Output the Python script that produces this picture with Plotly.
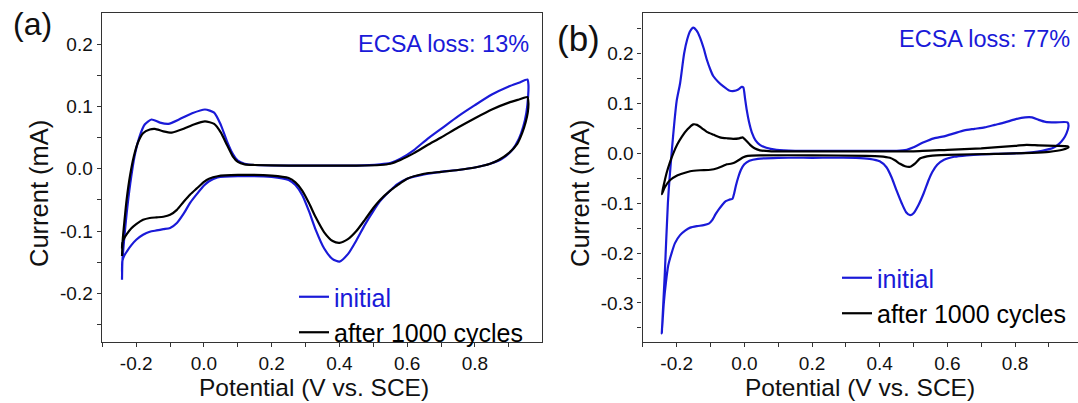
import plotly.graph_objects as go

# ---------------- data ----------------
# Panel (a): potential (V vs. SCE) and current (mA) along the CV loop
a_init_E = [-0.242, -0.241, -0.236, -0.228, -0.218, -0.205, -0.19, -0.175, -0.155, -0.13, -0.105, -0.07, -0.035,
            0.003, 0.03, 0.05, 0.068, 0.085, 0.1, 0.12, 0.15, 0.25, 0.35, 0.45, 0.52, 0.55, 0.58, 0.62, 0.66, 0.70,
            0.75, 0.80, 0.85, 0.90, 0.93, 0.955,
            0.958, 0.957, 0.952, 0.943, 0.93, 0.91, 0.88, 0.845, 0.80, 0.75, 0.70, 0.65, 0.60, 0.57, 0.55, 0.52,
            0.50, 0.475, 0.45, 0.425, 0.40, 0.38, 0.355, 0.33, 0.31, 0.29, 0.27, 0.25, 0.2, 0.1, 0.04, 0.015, 0.0,
            -0.02, -0.04, -0.06, -0.08, -0.1, -0.12, -0.14, -0.16, -0.18, -0.2, -0.215, -0.228, -0.236, -0.241, -0.242]
a_init_I = [-0.178, -0.15, -0.115, -0.07, -0.025, 0.02, 0.052, 0.071, 0.079, 0.074, 0.072, 0.08, 0.089,
            0.095, 0.09, 0.07, 0.044, 0.024, 0.013, 0.008, 0.006, 0.005, 0.005, 0.005, 0.007, 0.009, 0.016, 0.03,
            0.048, 0.064, 0.084, 0.102, 0.119, 0.132, 0.138, 0.143,
            0.135, 0.115, 0.09, 0.068, 0.048, 0.03, 0.016, 0.008, 0.002, -0.002, -0.005, -0.009, -0.016, -0.025,
            -0.035, -0.052, -0.068, -0.09, -0.115, -0.137, -0.149, -0.145, -0.128, -0.098, -0.068, -0.042, -0.026,
            -0.018, -0.013, -0.012, -0.014, -0.02, -0.027, -0.04, -0.054, -0.072, -0.087, -0.095, -0.097, -0.099,
            -0.101, -0.106, -0.114, -0.123, -0.133, -0.14, -0.148, -0.165]

a_after_E = [-0.242, -0.24, -0.235, -0.228, -0.218, -0.207, -0.195, -0.18, -0.16, -0.145, -0.12, -0.095, -0.06,
             -0.03, 0.003, 0.03, 0.05, 0.068, 0.085, 0.1, 0.12, 0.15, 0.25, 0.35, 0.45, 0.52, 0.55, 0.58, 0.62, 0.66,
             0.70, 0.75, 0.80, 0.85, 0.90, 0.93, 0.955,
             0.958, 0.956, 0.95, 0.94, 0.925, 0.9, 0.87, 0.845, 0.80, 0.75, 0.70, 0.65, 0.60, 0.57, 0.55, 0.52,
             0.50, 0.475, 0.45, 0.425, 0.40, 0.38, 0.355, 0.33, 0.31, 0.29, 0.27, 0.25, 0.2, 0.1, 0.04, 0.015, 0.0,
             -0.02, -0.04, -0.06, -0.08, -0.1, -0.12, -0.14, -0.16, -0.18, -0.2, -0.215, -0.228, -0.236, -0.241, -0.242]
a_after_I = [-0.14, -0.115, -0.085, -0.048, -0.01, 0.02, 0.042, 0.057, 0.063, 0.064, 0.06, 0.058, 0.064,
             0.071, 0.076, 0.072, 0.058, 0.038, 0.02, 0.011, 0.007, 0.006, 0.005, 0.005, 0.005, 0.006, 0.008, 0.014,
             0.025, 0.038, 0.05, 0.066, 0.081, 0.095, 0.106, 0.111, 0.115,
             0.105, 0.09, 0.075, 0.058, 0.04, 0.025, 0.014, 0.008, 0.002, -0.002, -0.005, -0.008, -0.016, -0.027,
             -0.035, -0.05, -0.063, -0.082, -0.1, -0.113, -0.119, -0.116, -0.102, -0.078, -0.055, -0.035, -0.022,
             -0.015, -0.011, -0.01, -0.012, -0.016, -0.021, -0.031, -0.041, -0.053, -0.066, -0.074, -0.077, -0.078,
             -0.079, -0.082, -0.089, -0.096, -0.105, -0.112, -0.118, -0.128]

# Panel (b)
b_init_E = [-0.244, -0.235, -0.226, -0.215, -0.2, -0.19, -0.178, -0.169, -0.16, -0.151, -0.141, -0.131, -0.12,
            -0.111, -0.1, -0.092, -0.077, -0.062, -0.045, -0.03, -0.018, -0.008, -0.003, 0.002, 0.007, 0.014, 0.022,
            0.033, 0.046, 0.065, 0.095, 0.15, 0.3, 0.45, 0.48, 0.5, 0.53, 0.56, 0.59, 0.62, 0.65, 0.68, 0.71, 0.74,
            0.77, 0.80, 0.83, 0.85, 0.87, 0.89, 0.92, 0.955,
            0.958, 0.952, 0.943, 0.93, 0.913, 0.88, 0.85, 0.80, 0.75, 0.70, 0.657, 0.62, 0.59, 0.57, 0.555, 0.545,
            0.53, 0.515, 0.50, 0.49, 0.478, 0.465, 0.45, 0.435, 0.42, 0.40, 0.37, 0.33, 0.2, 0.1, 0.04, 0.015, 0.0,
            -0.01, -0.018, -0.025, -0.03, -0.035, -0.045, -0.055, -0.065, -0.075, -0.085, -0.095, -0.105, -0.12,
            -0.14, -0.16, -0.175, -0.19, -0.205, -0.215, -0.225, -0.232, -0.238, -0.241, -0.244]
b_init_I = [-0.361, -0.24, -0.1, 0.0, 0.105, 0.14, 0.2, 0.228, 0.245, 0.252, 0.246, 0.232, 0.21,
            0.188, 0.167, 0.155, 0.143, 0.134, 0.126, 0.125, 0.128, 0.133, 0.132, 0.11, 0.087, 0.062, 0.042,
            0.026, 0.017, 0.011, 0.007, 0.005, 0.005, 0.005, 0.007, 0.012, 0.022, 0.030, 0.034, 0.040, 0.046, 0.049,
            0.052, 0.057, 0.062, 0.068, 0.072, 0.072, 0.067, 0.063, 0.062, 0.062,
            0.055, 0.04, 0.029, 0.019, 0.011, 0.005, 0.002, 0.0, -0.001, -0.002, -0.004, -0.007, -0.013, -0.023,
            -0.038, -0.053, -0.08, -0.103, -0.12, -0.124, -0.118, -0.1, -0.075, -0.048, -0.028, -0.016, -0.011,
            -0.009, -0.009, -0.009, -0.011, -0.015, -0.022, -0.033, -0.048, -0.065, -0.08, -0.091, -0.093, -0.096,
            -0.103, -0.112, -0.122, -0.134, -0.141, -0.144, -0.146, -0.149, -0.155, -0.164, -0.18, -0.2, -0.225,
            -0.26, -0.3, -0.33, -0.361]

b_after_E = [-0.244, -0.237, -0.23, -0.22, -0.21, -0.198, -0.185, -0.168, -0.151, -0.14, -0.125, -0.111, -0.09,
             -0.072, -0.05, -0.033, -0.015, -0.005, 0.003, 0.017, 0.03, 0.046, 0.08, 0.2, 0.4, 0.5, 0.6, 0.7, 0.8,
             0.834, 0.87, 0.92, 0.955,
             0.958, 0.94, 0.9, 0.85, 0.75, 0.6, 0.55, 0.52, 0.505, 0.49, 0.475, 0.46, 0.445, 0.43, 0.40, 0.36, 0.2,
             0.05, 0.01, -0.003, -0.015, -0.03, -0.04, -0.052, -0.065, -0.08, -0.1, -0.131, -0.16, -0.18, -0.2,
             -0.22, -0.235, -0.244]
b_after_I = [-0.082, -0.06, -0.04, -0.018, 0.0, 0.018, 0.033, 0.048, 0.058, 0.057, 0.05, 0.043, 0.037,
             0.032, 0.03, 0.029, 0.030, 0.032, 0.027, 0.017, 0.01, 0.006, 0.004, 0.004, 0.004, 0.004, 0.007, 0.010,
             0.015, 0.017, 0.016, 0.015, 0.014,
             0.012, 0.007, 0.003, 0.001, -0.001, -0.003, -0.005, -0.01, -0.02, -0.027, -0.026, -0.021, -0.014,
             -0.009, -0.006, -0.005, -0.004, -0.004, -0.005, -0.008, -0.013, -0.019, -0.021, -0.022, -0.026, -0.030,
             -0.033, -0.034, -0.036, -0.040, -0.045, -0.054, -0.068, -0.082]

x_tickvals = [-0.2, 0.0, 0.2, 0.4, 0.6, 0.8]
x_ticktext = ["-0.2", "0.0", "0.2", "0.4", "0.6", "0.8"]
ya_tickvals = [-0.2, -0.1, 0.0, 0.1, 0.2]
ya_ticktext = ["-0.2", "-0.1", "0.0", "0.1", "0.2"]
yb_tickvals = [-0.3, -0.2, -0.1, 0.0, 0.1, 0.2]
yb_ticktext = ["-0.3", "-0.2", "-0.1", "0.0", "0.1", "0.2"]

series_names = ["initial", "after 1000 cycles"]
ecsa_labels = ["ECSA loss: 13%", "ECSA loss: 77%"]
panel_labels = ["(a)", "(b)"]

# ---------------- style ----------------
BLUE = "#1a1ad8"
BLACK = "#000000"
AX = "#333333"
FONT = "Liberation Sans, Arial, sans-serif"
W, H = 1078, 403

fig = go.Figure()

def add_pair(xa, ya, E1, I1, E2, I2, legend):
    fig.add_trace(go.Scatter(x=E1, y=I1, mode="lines", xaxis=xa, yaxis=ya,
                             line=dict(color=BLUE, width=2.2, shape="spline", smoothing=0.6),
                             name="<span style='color:%s'>%s</span>" % (BLUE, series_names[0]),
                             legend=legend))
    fig.add_trace(go.Scatter(x=E2, y=I2, mode="lines", xaxis=xa, yaxis=ya,
                             line=dict(color=BLACK, width=2.2, shape="spline", smoothing=0.6),
                             name=series_names[1], legend=legend))

add_pair("x", "y", a_init_E, a_init_I, a_after_E, a_after_I, "legend")
add_pair("x2", "y2", b_init_E, b_init_I, b_after_E, b_after_I, "legend2")

def px_x(p):
    return p / W

def px_y(p):
    return 1 - p / H

TICKFONT = dict(family=FONT, size=19, color="#111")
common_x = dict(showline=True, linecolor=AX, linewidth=1.3, mirror=True, ticks="outside", ticklen=4,
                tickwidth=1.2, tickcolor=AX, showgrid=False, zeroline=False, tickfont=TICKFONT,
                tickmode="array", tickvals=x_tickvals, ticktext=x_ticktext,
                minor=dict(ticks="outside", ticklen=4, tickwidth=1.2, tickcolor=AX, tickmode="linear",
                           tick0=0, dtick=0.1, showgrid=False))
common_y = dict(showline=True, linecolor=AX, linewidth=1.3, ticks="outside", ticklen=4,
                tickwidth=1.2, tickcolor=AX, showgrid=False, zeroline=False, tickfont=TICKFONT,
                tickmode="array",
                minor=dict(ticks="outside", ticklen=4, tickwidth=1.2, tickcolor=AX, tickmode="linear",
                           tick0=0, dtick=0.05, showgrid=False))

LEGFONT = dict(family=FONT, size=25, color="black")
fig.update_layout(
    width=W, height=H, margin=dict(l=0, r=0, t=0, b=0),
    paper_bgcolor="white", plot_bgcolor="white",
    showlegend=True,
    xaxis=dict(common_x, domain=[px_x(101.7), px_x(542.3)], range=[-0.302, 0.999], anchor="y"),
    yaxis=dict(common_y, domain=[px_y(342.3), px_y(13.3)], range=[-0.2784, 0.2493], anchor="x",
               mirror=True, tickvals=ya_tickvals, ticktext=ya_ticktext),
    xaxis2=dict(common_x, domain=[px_x(642.5), 1.0], range=[-0.301, 0.986], anchor="y2"),
    yaxis2=dict(common_y, domain=[px_y(342.3), px_y(13.3)], range=[-0.3788, 0.2806], anchor="x2",
                mirror=False, tickvals=yb_tickvals, ticktext=yb_ticktext),
    legend=dict(x=px_x(294), y=px_y(274), xanchor="left", yanchor="top", bgcolor="rgba(0,0,0,0)",
                font=LEGFONT, tracegroupgap=0, itemwidth=30),
    legend2=dict(x=px_x(837), y=px_y(255), xanchor="left", yanchor="top", bgcolor="rgba(0,0,0,0)",
                 font=LEGFONT, tracegroupgap=0, itemwidth=30),
)

annos = []
# axis titles
for cx in [314, 860]:
    annos.append(dict(x=px_x(cx), y=px_y(402), xref="paper", yref="paper", xanchor="center", yanchor="bottom",
                      text="Potential (V vs. SCE)", showarrow=False, borderpad=0,
                      font=dict(family=FONT, size=24.5, color="#111")))
for cx in [39, 580]:
    annos.append(dict(x=px_x(cx), y=px_y(194), xref="paper", yref="paper", xanchor="center", yanchor="middle",
                      text="Current (mA)", textangle=-90, showarrow=False,
                      font=dict(family=FONT, size=25.5, color="#111")))
# ECSA labels
annos.append(dict(x=px_x(531), y=px_y(44), xref="paper", yref="paper", xanchor="right", yanchor="middle",
                  text=ecsa_labels[0], showarrow=False, font=dict(family=FONT, size=23.5, color=BLUE)))
annos.append(dict(x=px_x(1072), y=px_y(39), xref="paper", yref="paper", xanchor="right", yanchor="middle",
                  text=ecsa_labels[1], showarrow=False, font=dict(family=FONT, size=23.5, color=BLUE)))
# panel labels
annos.append(dict(x=px_x(32), y=px_y(24), xref="paper", yref="paper", xanchor="center", yanchor="middle",
                  text=panel_labels[0], showarrow=False, font=dict(family=FONT, size=32, color="#111")))
annos.append(dict(x=px_x(578), y=px_y(38), xref="paper", yref="paper", xanchor="center", yanchor="middle",
                  text=panel_labels[1], showarrow=False, font=dict(family=FONT, size=35, color="#111")))
fig.update_layout(annotations=annos)

fig.write_html("out.html")
